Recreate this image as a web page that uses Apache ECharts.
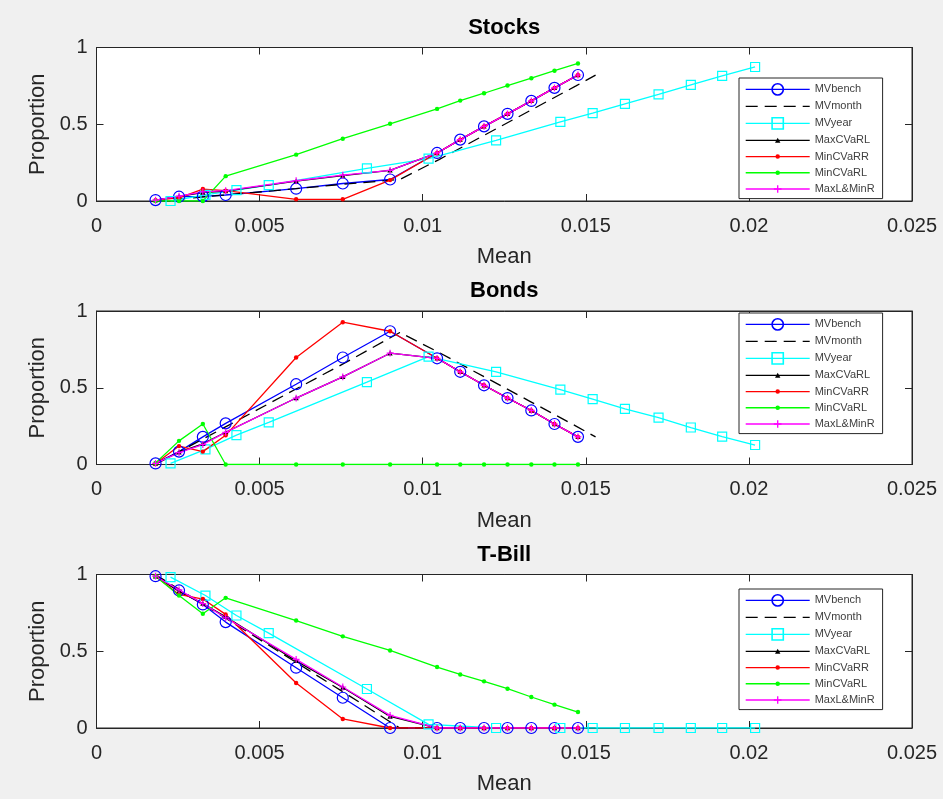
<!DOCTYPE html>
<html>
<head>
<meta charset="utf-8">
<script src="https://cdn.jsdelivr.net/npm/echarts@6/dist/echarts.min.js"></script>
<style>
  html, body { margin: 0; padding: 0; background: #f0f0f0; }
  #chart { width: 943px; height: 799px; }
</style>
</head>
<body>
<div id="chart"></div>
<script>
// Panel titles, legend entries and tick labels
const panelTitles = ['Stocks', 'Bonds', 'T-Bill'];
const seriesNames = ['MVbench', 'MVmonth', 'MVyear', 'MaxCVaRL', 'MinCVaRR', 'MinCVaRL', 'MaxL&MinR'];
const xTickLabels = ['0', '0.005', '0.01', '0.015', '0.02', '0.025'];
const yTickLabels = ['0', '0.5', '1'];

// Mean return of each frontier portfolio
const meanGrid  = [0.00181, 0.00253, 0.00326, 0.00396, 0.00612, 0.00755, 0.00900, 0.01044, 0.01115, 0.01188, 0.01260, 0.01333, 0.01404, 0.01476];
const yearMean  = [0.00227, 0.00334, 0.00429, 0.00528, 0.00829, 0.01018, 0.01225, 0.01422, 0.01521, 0.01620, 0.01723, 0.01822, 0.01918, 0.02019];
const monthMean = [0.0018, 0.0040, 0.0061, 0.0076, 0.0093, 0.0105, 0.0119, 0.0133, 0.0147, 0.0153];

// Stocks weight
const stocksMVbench   = [0.006, 0.028, 0.030, 0.039, 0.080, 0.114, 0.140, 0.313, 0.400, 0.486, 0.568, 0.652, 0.737, 0.821];
const stocksMVmonth   = [0.00, 0.04, 0.08, 0.11, 0.14, 0.27, 0.43, 0.59, 0.75, 0.82];
const stocksMVyear    = [0.000, 0.040, 0.071, 0.104, 0.212, 0.276, 0.395, 0.516, 0.572, 0.633, 0.695, 0.757, 0.815, 0.873];
const stocksMaxCVaRL  = [0.006, 0.030, 0.055, 0.065, 0.130, 0.165, 0.200, 0.313, 0.400, 0.486, 0.568, 0.652, 0.737, 0.821];
const stocksMinCVaRR  = [0.006, 0.020, 0.078, 0.067, 0.011, 0.011, 0.136, 0.313, 0.400, 0.486, 0.568, 0.652, 0.737, 0.821];
const stocksMinCVaRL  = [0.000, 0.000, 0.000, 0.162, 0.302, 0.406, 0.503, 0.600, 0.654, 0.702, 0.752, 0.800, 0.849, 0.896];
const stocksMaxLMinR  = [0.006, 0.032, 0.060, 0.067, 0.132, 0.168, 0.200, 0.313, 0.400, 0.486, 0.568, 0.652, 0.737, 0.821];

// Bonds weight
const bondsMVbench    = [0.007, 0.084, 0.180, 0.268, 0.523, 0.697, 0.868, 0.692, 0.604, 0.516, 0.433, 0.352, 0.264, 0.180];
const bondsMVmonth    = [0.00, 0.25, 0.49, 0.66, 0.86, 0.73, 0.57, 0.41, 0.25, 0.18];
const bondsMVyear     = [0.007, 0.099, 0.191, 0.275, 0.536, 0.703, 0.604, 0.488, 0.426, 0.363, 0.305, 0.241, 0.182, 0.127];
const bondsMaxCVaRL   = [0.007, 0.080, 0.135, 0.210, 0.433, 0.571, 0.725, 0.692, 0.604, 0.516, 0.433, 0.352, 0.264, 0.180];
const bondsMinCVaRR   = [0.007, 0.120, 0.084, 0.190, 0.697, 0.927, 0.868, 0.692, 0.604, 0.516, 0.433, 0.352, 0.264, 0.180];
const bondsMinCVaRL   = [0.010, 0.154, 0.264, 0.000, 0.000, 0.000, 0.000, 0.000, 0.000, 0.000, 0.000, 0.000, 0.000, 0.000];
const bondsMaxLMinR   = [0.007, 0.077, 0.130, 0.209, 0.433, 0.571, 0.725, 0.692, 0.604, 0.516, 0.433, 0.352, 0.264, 0.180];

// T-Bill weight
const tbillMVbench    = [0.989, 0.896, 0.805, 0.690, 0.393, 0.197, 0.000, 0.000, 0.000, 0.000, 0.000, 0.000, 0.000, 0.000];
const tbillMVmonth    = [1.00, 0.71, 0.43, 0.23, 0.00, 0.00, 0.00, 0.00, 0.00, 0.00];
const tbillMVyear     = [0.983, 0.863, 0.733, 0.618, 0.254, 0.024, 0.000, 0.000, 0.000, 0.000, 0.000, 0.000, 0.000, 0.000];
const tbillMaxCVaRL   = [0.989, 0.890, 0.810, 0.725, 0.437, 0.264, 0.075, 0.000, 0.000, 0.000, 0.000, 0.000, 0.000, 0.000];
const tbillMinCVaRR   = [0.989, 0.870, 0.840, 0.740, 0.293, 0.059, 0.000, 0.000, 0.000, 0.000, 0.000, 0.000, 0.000, 0.000];
const tbillMinCVaRL   = [0.989, 0.863, 0.744, 0.848, 0.700, 0.597, 0.505, 0.397, 0.349, 0.304, 0.256, 0.202, 0.152, 0.104];
const tbillMaxLMinR   = [0.989, 0.900, 0.810, 0.718, 0.447, 0.267, 0.082, 0.000, 0.000, 0.000, 0.000, 0.000, 0.000, 0.000];

const panelValues = [
  [stocksMVbench, stocksMVmonth, stocksMVyear, stocksMaxCVaRL, stocksMinCVaRR, stocksMinCVaRL, stocksMaxLMinR],
  [bondsMVbench,  bondsMVmonth,  bondsMVyear,  bondsMaxCVaRL,  bondsMinCVaRR,  bondsMinCVaRL,  bondsMaxLMinR],
  [tbillMVbench,  tbillMVmonth,  tbillMVyear,  tbillMaxCVaRL,  tbillMinCVaRR,  tbillMinCVaRL,  tbillMaxLMinR]
];
const seriesMeans = [meanGrid, monthMean, yearMean, meanGrid, meanGrid, meanGrid, meanGrid];

// Small marker shapes; the leading moves fix a 10x10 box so the glyph keeps its size in the legend
const dotPath  = 'path://M0,0M10,10M3,5A2,2 0 1 1 7,5A2,2 0 1 1 3,5Z';
const triPath  = 'path://M0,0M10,10M5,2.6L7.4,7H2.6Z';
const plusPath = 'path://M0,0M10,10M4.4,1.6H5.6V4.4H8.4V5.6H5.6V8.4H4.4V5.6H1.6V4.4H4.4Z';

const seriesStyles = [
  { color: '#0000ff', symbol: 'circle', size: 11, hollow: true },
  { color: '#000000', symbol: 'circle', size: 0, dash: [12, 7], noMarker: true },
  { color: '#00ffff', symbol: 'rect', size: 9, hollow: true },
  { color: '#000000', symbol: triPath, size: 11 },
  { color: '#ff0000', symbol: dotPath, size: 11 },
  { color: '#00ff00', symbol: dotPath, size: 11 },
  { color: '#ff00ff', symbol: plusPath, size: 10 }
];

const FONT = "'Liberation Sans', Arial, Helvetica, sans-serif";
const AXIS_COLOR = '#262626';

const gridLeft = 96.5, gridWidth = 815.5, gridHeight = 153.5;
const gridTops = [47.5, 311, 574.5];
const legendTops = [78, 313, 589];

const grids = [], xAxes = [], yAxes = [], titles = [], legends = [], series = [];

gridTops.forEach((top, i) => {
  grids.push({
    left: gridLeft, top: top, width: gridWidth, height: gridHeight,
    show: true, backgroundColor: '#ffffff', borderColor: AXIS_COLOR, borderWidth: 1,
    containLabel: false, outerBoundsMode: 'none'
  });

  const tickCommon = { show: true, inside: true, length: 7, lineStyle: { color: AXIS_COLOR, width: 1 } };
  const lineCommon = { show: true, onZero: false, lineStyle: { color: AXIS_COLOR, width: 1 } };

  xAxes.push({
    type: 'value', gridIndex: i, position: 'bottom', min: 0, max: 0.025, interval: 0.005,
    axisLine: lineCommon, axisTick: tickCommon, splitLine: { show: false },
    axisLabel: {
      show: true, margin: 15, fontSize: 20, color: AXIS_COLOR, fontFamily: FONT,
      formatter: v => xTickLabels[Math.round(v / 0.005)]
    },
    name: 'Mean', nameLocation: 'middle', nameGap: 45,
    nameTextStyle: { fontSize: 22, color: AXIS_COLOR, fontFamily: FONT }
  });
  xAxes.push({
    type: 'value', gridIndex: i, position: 'top', min: 0, max: 0.025, interval: 0.005,
    axisLine: lineCommon, axisTick: tickCommon, axisLabel: { show: false }, splitLine: { show: false }
  });

  yAxes.push({
    type: 'value', gridIndex: i, position: 'left', min: 0, max: 1, interval: 0.5,
    axisLine: lineCommon, axisTick: tickCommon, splitLine: { show: false },
    axisLabel: {
      show: true, margin: 9, fontSize: 20, color: AXIS_COLOR, fontFamily: FONT,
      formatter: v => yTickLabels[Math.round(v / 0.5)]
    },
    name: 'Proportion', nameLocation: 'middle', nameGap: 48, nameRotate: 90,
    nameTextStyle: { fontSize: 22, color: AXIS_COLOR, fontFamily: FONT }
  });
  yAxes.push({
    type: 'value', gridIndex: i, position: 'right', min: 0, max: 1, interval: 0.5,
    axisLine: lineCommon, axisTick: tickCommon, axisLabel: { show: false }, splitLine: { show: false }
  });

  titles.push({
    text: panelTitles[i], left: gridLeft + gridWidth / 2, top: top - 31, textAlign: 'center', padding: 0,
    textStyle: { fontSize: 22, fontWeight: 'bold', color: '#000000', fontFamily: FONT }
  });

  legends.push({
    orient: 'vertical', left: 739, top: legendTops[i],
    itemWidth: 64, itemHeight: 14, itemGap: 5, padding: [5, 8, 4, 6],
    backgroundColor: '#ffffff', borderColor: AXIS_COLOR, borderWidth: 1, borderRadius: 0,
    selectedMode: false,
    textStyle: { fontSize: 11, color: '#404040', fontFamily: FONT },
    data: seriesNames.map((n, k) => ({
      name: n,
      itemStyle: { borderWidth: seriesStyles[k].hollow ? 1.6 : 0 },
      lineStyle: { width: 1.4 }
    }))
  });

  panelValues[i].forEach((vals, k) => {
    const st = seriesStyles[k];
    const xs = seriesMeans[k];
    series.push({
      type: 'line', name: seriesNames[k],
      xAxisIndex: 2 * i, yAxisIndex: 2 * i,
      data: xs.map((x, j) => [x, vals[j]]),
      symbol: st.symbol, symbolSize: st.size, showSymbol: !st.noMarker,
      lineStyle: { color: st.color, width: 1.3, type: st.dash || 'solid' },
      itemStyle: st.hollow
        ? { color: 'rgba(255,255,255,0)', borderColor: st.color, borderWidth: 1.2 }
        : (st.noMarker ? { color: 'rgba(0,0,0,0)', borderWidth: 0 } : { color: st.color, borderWidth: 0 }),
      emphasis: { disabled: true },
      silent: true
    });
  });
});

const chart = echarts.init(document.getElementById('chart'), null, { renderer: 'canvas' });
chart.setOption({
  backgroundColor: '#f0f0f0',
  animation: false,
  title: titles,
  legend: legends,
  grid: grids,
  xAxis: xAxes,
  yAxis: yAxes,
  series: series
});
</script>
</body>
</html>
